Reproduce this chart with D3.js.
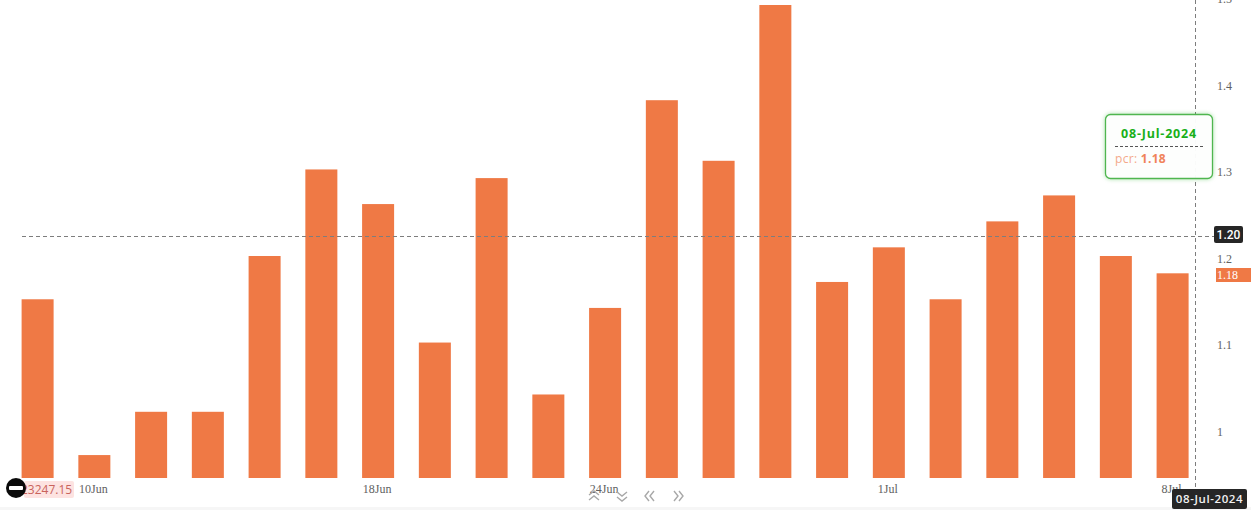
<!DOCTYPE html>
<html>
<head>
<meta charset="utf-8">
<script src="https://cdn.jsdelivr.net/npm/d3@7"></script>
<style>
  html, body { margin: 0; padding: 0; background: #fff; overflow: hidden; }
  svg { display: block; }
  .axis text { font-family: "Liberation Serif", serif; font-size: 12px; fill: #616161; }
</style>
</head>
<body>
<svg id="chart" width="1251" height="510"></svg>
<script>
// Put/call ratio per trading session
const dates = ["07-Jun","10-Jun","11-Jun","12-Jun","13-Jun","14-Jun","18-Jun","19-Jun","20-Jun","21-Jun","24-Jun",
               "25-Jun","26-Jun","27-Jun","28-Jun","01-Jul","02-Jul","03-Jul","04-Jul","05-Jul","08-Jul"];
const pcr = [1.15,0.97,1.02,1.02,1.20,1.30,1.26,1.10,1.29,1.04,1.14,1.38,1.31,1.49,1.17,1.21,1.15,1.24,1.27,1.20,1.18];
const xTickDates = ["10-Jun","18-Jun","24-Jun","01-Jul","08-Jul"];
const xTickLabels = ["10Jun","18Jun","24Jun","1Jul","8Jul"];
const yTicks = [1,1.1,1.2,1.3,1.4,1.5];

const svg = d3.select("#chart");
const orange = "#ef7945";
const floorY = 478;

const x = d3.scaleBand().domain(dates).range([21.6, 1188.6]).paddingInner(0.436).paddingOuter(0);
const y = d3.scaleLinear().domain([1.2, 1.49]).range([256, 5]);

// footer strip
svg.append("rect").attr("x", 0).attr("y", 507).attr("width", 1251).attr("height", 3).attr("fill", "#f6f6f6");

// bars
svg.append("g").selectAll("rect").data(pcr).join("rect")
  .attr("x", (d, i) => x(dates[i]))
  .attr("y", d => y(d))
  .attr("width", x.bandwidth())
  .attr("height", d => floorY - y(d))
  .attr("fill", orange);

// date axis
const xAxis = d3.axisBottom(x)
  .tickValues(xTickDates)
  .tickSize(0)
  .tickPadding(0)
  .tickFormat(d => xTickLabels[xTickDates.indexOf(d)]);
const gx = svg.append("g").attr("class", "axis").attr("transform", `translate(-1,${floorY + 6})`).call(xAxis);
gx.select(".domain").remove();
gx.selectAll("text").attr("dy", "0.71em");

// value axis
const yAxis = d3.axisRight(y).tickValues(yTicks).tickSize(0).tickPadding(0).tickFormat(d3.format("~g"));
const gy = svg.append("g").attr("class", "axis").attr("transform", "translate(1217,2.5)").call(yAxis);
gy.select(".domain").remove();

// crosshair
const crossX = 1195.5, crossY = 236;
svg.append("line").attr("x1", crossX).attr("x2", crossX).attr("y1", 0).attr("y2", 489)
  .attr("stroke", "#7d7d7d").attr("stroke-width", 1).attr("stroke-dasharray", "4,3");
svg.append("line").attr("x1", 22).attr("x2", 1214).attr("y1", crossY + 0.5).attr("y2", crossY + 0.5)
  .attr("stroke", "#7d7d7d").attr("stroke-width", 1).attr("stroke-dasharray", "4,3");

// crosshair value badge
svg.append("rect").attr("x", 1214).attr("y", 226).attr("width", 29).attr("height", 17).attr("rx", 2).attr("fill", "#262626");
svg.append("text").attr("x", 1228.5).attr("y", 238.5).attr("text-anchor", "middle")
  .attr("font-family", "Roboto, sans-serif").attr("font-size", 12).attr("font-weight", 500).attr("fill", "#fff").text("1.20");

// last value badge
const last = pcr[pcr.length - 1];
svg.append("rect").attr("x", 1216).attr("y", 268).attr("width", 35).attr("height", 14).attr("fill", orange);
svg.append("text").attr("x", 1217).attr("y", 279).attr("font-family", "Liberation Serif, serif")
  .attr("font-size", 12).attr("fill", "#fff").text(last.toFixed(2));

// date badge under the crosshair
svg.append("rect").attr("x", 1172).attr("y", 489).attr("width", 75).attr("height", 20).attr("rx", 2).attr("fill", "#262626");
svg.append("text").attr("x", 1209.5).attr("y", 503).attr("text-anchor", "middle")
  .attr("font-family", "'Open Sans', sans-serif").attr("font-size", 11.5).attr("font-weight", 600)
  .attr("letter-spacing", 0.6).attr("fill", "#f2f2f2").text("08-Jul-2024");

// tooltip
const defs = svg.append("defs");
const shadow = defs.append("filter").attr("id", "tipShadow").attr("x", "-10%").attr("y", "-15%").attr("width", "120%").attr("height", "130%");
shadow.append("feDropShadow").attr("dx", 0).attr("dy", 0).attr("stdDeviation", 2).attr("flood-color", "#1fa81f").attr("flood-opacity", 0.35);
const tip = svg.append("g");
tip.append("rect").attr("x", 1105.5).attr("y", 114.5).attr("width", 107).attr("height", 64).attr("rx", 5)
  .attr("fill", "#fff").attr("fill-opacity", 0.95).attr("stroke", "#4fb64f").attr("stroke-width", 1.3).attr("filter", "url(#tipShadow)");
tip.append("text").attr("x", 1159).attr("y", 138).attr("text-anchor", "middle")
  .attr("font-family", "'Open Sans', sans-serif").attr("font-size", 12.5).attr("font-weight", 700)
  .attr("letter-spacing", 0.8).attr("fill", "#19b019").text("08-Jul-2024");
tip.append("line").attr("x1", 1115).attr("x2", 1203).attr("y1", 146.5).attr("y2", 146.5)
  .attr("stroke", "#555").attr("stroke-dasharray", "3,2");
const tipLine = tip.append("text").attr("x", 1115).attr("y", 163)
  .attr("font-family", "'Open Sans', sans-serif").attr("font-size", 12).attr("letter-spacing", 0.3);
tipLine.append("tspan").attr("fill", "#f4a98a").text("pcr: ");
tipLine.append("tspan").attr("fill", "#f0835a").attr("font-weight", 700).text(last.toFixed(2));

// collapse button and price tag
svg.append("rect").attr("x", 24).attr("y", 481).attr("width", 50).attr("height", 17).attr("rx", 2).attr("fill", "#fde3e1");
svg.append("text").attr("x", 21).attr("y", 494).attr("font-family", "'Open Sans', sans-serif")
  .attr("font-size", 12).attr("fill", "#c9635c").text("23247.15");
svg.append("circle").attr("cx", 16).attr("cy", 488).attr("r", 10).attr("fill", "#0a0a0a");
svg.append("rect").attr("x", 9).attr("y", 486).attr("width", 14).attr("height", 4).attr("rx", 1).attr("fill", "#fff");

// navigation chevrons
const chevrons = [
  { cx: 594, cy: 496, rot: 0 },
  { cx: 622, cy: 496, rot: 180 },
  { cx: 650, cy: 496, rot: -90 },
  { cx: 678, cy: 496, rot: 90 }
];
const chevronGroup = svg.append("g").attr("fill", "none").attr("stroke", "#a8a8a8").attr("stroke-width", 1.4);
chevrons.forEach(c => {
  const g = chevronGroup.append("g").attr("transform", `translate(${c.cx},${c.cy}) rotate(${c.rot})`);
  g.append("path").attr("d", "M-5,-1 L0,-5 L5,-1");
  g.append("path").attr("d", "M-5,4 L0,0 L5,4");
});
</script>
</body>
</html>
